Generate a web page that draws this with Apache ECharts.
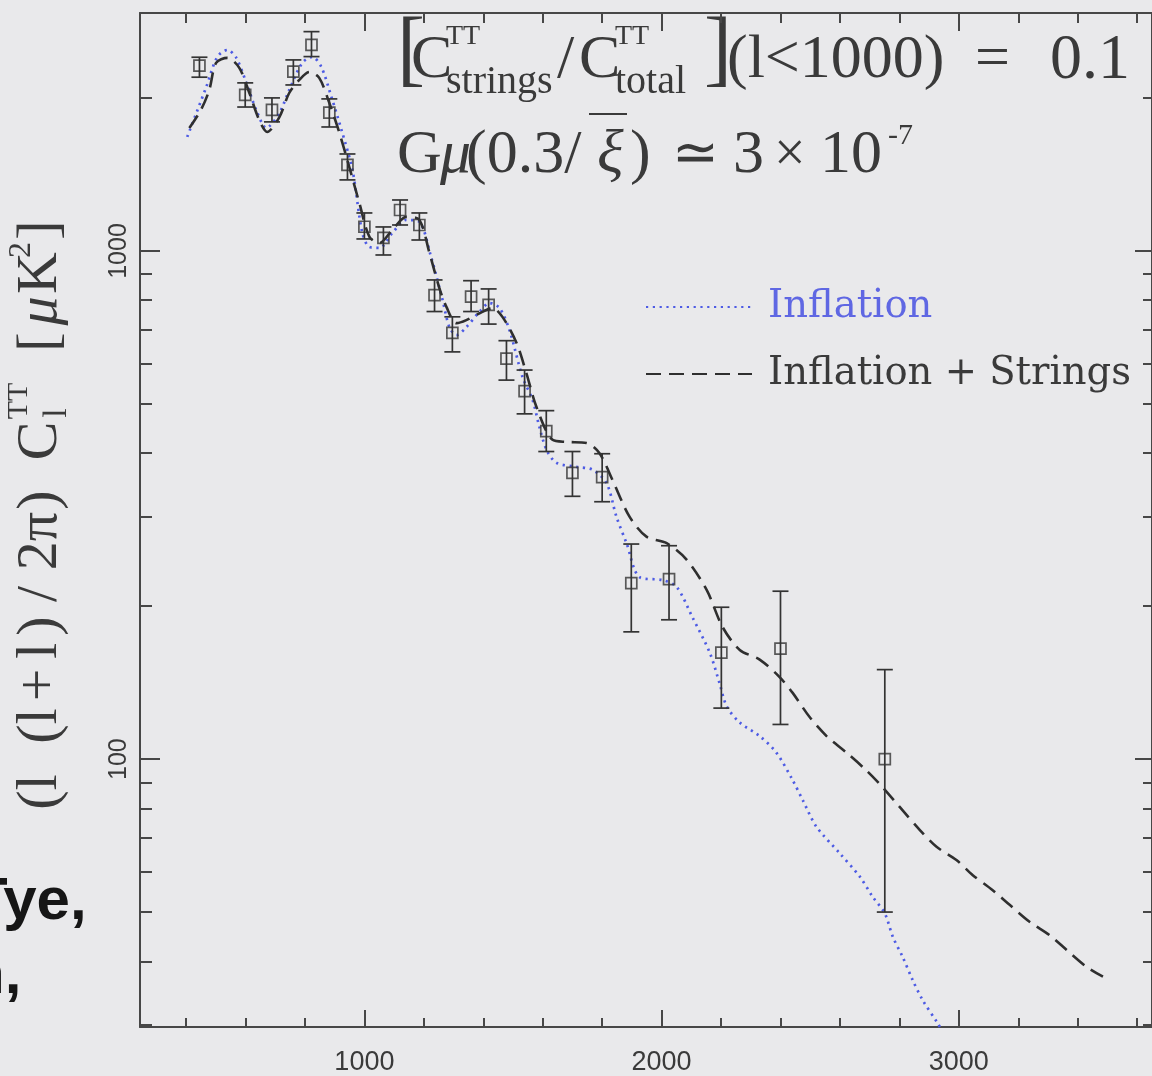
<!DOCTYPE html>
<html><head><meta charset="utf-8">
<script src="https://cdn.jsdelivr.net/npm/echarts@6/dist/echarts.min.js"></script>
<style>html,body{margin:0;padding:0;background:#e9e9eb;}#chart{width:1152px;height:1076px;}</style>
</head><body><div id="chart"></div>
<script>
// ---- measured band powers (l, value, lower, upper) in uK^2
const binEll  = [445, 599, 689, 761, 822, 882, 943, 1000, 1064, 1120, 1185, 1236, 1296, 1359, 1418, 1478, 1539, 1612, 1700, 1800, 1898, 2025, 2201, 2400, 2751];
const binVal  = [2317, 2028, 1895, 2254, 2544, 1872, 1477, 1116, 1061, 1204, 1125, 819, 690, 813, 783, 614, 530, 442, 366, 359, 222, 226, 162, 165, 100];
const binLow  = [2198, 1920, 1795, 2122, 2413, 1754, 1380, 1056, 982, 1125, 1051, 760, 633, 760, 718, 557, 478, 403, 329, 321, 178, 188, 126, 117, 50];
const binHigh = [2406, 2142, 2001, 2377, 2702, 1992, 1552, 1188, 1115, 1260, 1188, 877, 742, 874, 842, 666, 583, 485, 403, 399, 265, 263, 199, 214, 150];

// ---- Inflation model curve
const inflEll = [404, 468, 505, 539, 569, 603, 636, 670, 714, 747, 791, 825, 855, 889, 923, 960, 993, 1017, 1051, 1094, 1141, 1185, 1222, 1263, 1286, 1310, 1343, 1387, 1421, 1455, 1488, 1532, 1566, 1589, 1613, 1646, 1714, 1768, 1815, 1848, 1882, 1926, 2003, 2051, 2104, 2162, 2195, 2219, 2263, 2330, 2386, 2441, 2475, 2521, 2599, 2667, 2710, 2751, 2778, 2811, 2845, 2879, 2929, 2953];
const inflVal = [1677, 2103, 2409, 2487, 2399, 2141, 1895, 1746, 1869, 2074, 2345, 2409, 2303, 2010, 1730, 1443, 1085, 1018, 1014, 1085, 1151, 1141, 985, 801, 708, 683, 708, 759, 790, 772, 699, 565, 509, 450, 406, 383, 376, 371, 349, 300, 266, 228, 225, 218, 190, 162, 141, 127, 118, 111, 103, 90.9, 83.0, 73.6, 65.3, 58.7, 53.6, 49.7, 44.7, 40.8, 36.7, 33.5, 30.2, 28.6];

// ---- Inflation + Strings model curve
const strEll = [411, 450, 478, 501, 539, 579, 613, 646, 673, 714, 747, 781, 815, 848, 882, 916, 949, 983, 1017, 1051, 1094, 1141, 1185, 1219, 1252, 1276, 1310, 1343, 1397, 1431, 1465, 1512, 1545, 1579, 1633, 1680, 1747, 1791, 1835, 1892, 1949, 2017, 2084, 2152, 2205, 2263, 2330, 2397, 2441, 2498, 2555, 2622, 2689, 2744, 2801, 2869, 2925, 2992, 3047, 3114, 3172, 3239, 3306, 3363, 3430, 3485];
const strVal = [1746, 1895, 2074, 2345, 2399, 2293, 2046, 1811, 1715, 1835, 2046, 2171, 2251, 2191, 1956, 1707, 1464, 1243, 1066, 1037, 1100, 1167, 1151, 991, 846, 776, 721, 731, 759, 772, 741, 659, 575, 493, 425, 421, 419, 400, 354, 300, 274, 266, 247, 215, 182, 164, 157, 145, 135, 121, 111, 103, 95, 88, 80.5, 72.5, 67.2, 63.3, 59.1, 55.2, 51.6, 47.8, 45.0, 42.1, 39.0, 37.3];

// ---- axis ticks
const xMajorTicks = [1000, 2000, 3000];
const xMinorTicks = [400, 600, 800, 1200, 1400, 1600, 1800, 2200, 2400, 2600, 2800, 3200, 3400, 3600];
const yLabelTicks = [100, 1000];

const frameColor = '#474747';
const serif = "'Liberation Serif','Times New Roman',serif";
const ink = '#3a3a3a';
const sans = "'Liberation Sans',Arial,sans-serif";

function txt(s, x, y, size, style) {
  return { type: 'text', x: x, y: y, silent: true,
    style: Object.assign({ text: s, fontSize: size, fontFamily: serif, fill: ink,
      textAlign: 'left', textVerticalAlign: 'middle', verticalAlign: 'middle' }, style || {}) };
}
function rot(s, yc, xc, size, style) {
  return { type: 'text', x: xc, y: yc, rotation: Math.PI / 2, silent: true,
    style: Object.assign({ text: s, fontSize: size, fontFamily: serif, fill: ink,
      textAlign: 'center', textVerticalAlign: 'middle', verticalAlign: 'middle' }, style || {}) };
}

const chart = echarts.init(document.getElementById('chart'), null, { renderer: 'canvas' });

const xBase = { type: 'value', min: 245, max: 3650, splitLine: { show: false } };
const yBase = { type: 'log', logBase: 10, min: 29.7, max: 2940, splitLine: { show: false }, minorSplitLine: { show: false } };
const ls = { color: frameColor, width: 2 };

const option = {
  backgroundColor: '#e9e9eb',
  animation: false,
  grid: { left: 140, top: 13, width: 1013, height: 1014, containLabel: false },
  xAxis: [
    Object.assign({}, xBase, { position: 'bottom',
      axisLine: { show: true, onZero: false, lineStyle: ls },
      axisTick: { show: true, inside: true, length: 17, customValues: xMajorTicks, lineStyle: ls },
      axisLabel: { show: true, customValues: xMajorTicks, margin: 22, fontSize: 27, color: '#3a3a3a', fontFamily: sans,
        formatter: function (v) { return String(Math.round(v)); } } }),
    Object.assign({}, xBase, { position: 'bottom',
      axisLine: { show: false, onZero: false },
      axisTick: { show: true, inside: true, length: 9, customValues: xMinorTicks, lineStyle: ls },
      axisLabel: { show: false } }),
    Object.assign({}, xBase, { position: 'top',
      axisLine: { show: true, onZero: false, lineStyle: ls },
      axisTick: { show: true, inside: true, length: 18, customValues: xMajorTicks, lineStyle: ls },
      axisLabel: { show: false } }),
    Object.assign({}, xBase, { position: 'top',
      axisLine: { show: false, onZero: false },
      axisTick: { show: true, inside: true, length: 10, customValues: xMinorTicks, lineStyle: ls },
      axisLabel: { show: false } })
  ],
  yAxis: [
    Object.assign({}, yBase, { position: 'left',
      axisLine: { show: true, onZero: false, lineStyle: ls },
      axisTick: { show: true, inside: true, length: 20, lineStyle: ls },
      minorTick: { show: true, splitNumber: 9, length: 12, lineStyle: ls },
      axisLabel: { show: true, rotate: 90, margin: 8, fontSize: 25, color: '#3a3a3a', fontFamily: sans,
        formatter: function (v) { return yLabelTicks.some(function (t) { return Math.abs(v - t) < 1e-6; }) ? String(Math.round(v)) : ''; } } }),
    Object.assign({}, yBase, { position: 'right',
      axisLine: { show: true, onZero: false, lineStyle: ls },
      axisTick: { show: true, inside: true, length: 17, lineStyle: ls },
      minorTick: { show: true, splitNumber: 9, length: 9, lineStyle: ls },
      axisLabel: { show: false } })
  ],
  legend: {
    data: [ { name: 'Inflation', textStyle: { color: '#5f67e3' } },
            { name: 'Inflation + Strings', textStyle: { color: '#3a3a3a' } } ],
    orient: 'vertical', left: 645, top: 287, padding: 0,
    itemWidth: 106, itemHeight: 20, itemGap: 27, selectedMode: false,
    itemStyle: { color: 'rgba(0,0,0,0)', borderWidth: 0, opacity: 0 },
    textStyle: { fontFamily: "'DejaVu Serif',serif", fontSize: 38.5, lineHeight: 40, padding: [0, 0, 0, 11] }
  },
  series: [
    { name: 'Inflation', type: 'line', xAxisIndex: 0, yAxisIndex: 0, symbol: 'none', showSymbol: false, smooth: 0.3, clip: true,
      itemStyle: { color: 'rgba(0,0,0,0)' },
      lineStyle: { color: '#4d5be4', width: 2.7, type: [2.2, 4.6] },
      data: inflEll.map(function (l, i) { return [l, inflVal[i]]; }), z: 2 },
    { name: 'Inflation + Strings', type: 'line', xAxisIndex: 0, yAxisIndex: 0, symbol: 'none', showSymbol: false, smooth: 0.3, clip: true,
      itemStyle: { color: 'rgba(0,0,0,0)' },
      lineStyle: { color: '#2f2f2f', width: 2.6, type: [15, 8] },
      data: strEll.map(function (l, i) { return [l, strVal[i]]; }), z: 3 },
    { name: 'errors', type: 'custom', xAxisIndex: 0, yAxisIndex: 0, clip: true, z: 4,
      encode: { x: 0, y: [1, 2] },
      data: binEll.map(function (l, i) { return [l, binLow[i], binHigh[i]]; }),
      renderItem: function (params, api) {
        const x = api.value(0);
        const a = api.coord([x, api.value(1)]);
        const b = api.coord([x, api.value(2)]);
        const hw = 8;
        const st = { stroke: '#333', lineWidth: 1.7 };
        return { type: 'group', children: [
          { type: 'line', shape: { x1: a[0], y1: a[1], x2: b[0], y2: b[1] }, style: st },
          { type: 'line', shape: { x1: a[0] - hw, y1: a[1], x2: a[0] + hw, y2: a[1] }, style: st },
          { type: 'line', shape: { x1: b[0] - hw, y1: b[1], x2: b[0] + hw, y2: b[1] }, style: st }
        ] };
      } },
    { name: 'data', type: 'scatter', xAxisIndex: 0, yAxisIndex: 0, symbol: 'rect', symbolSize: 11, z: 5,
      itemStyle: { color: 'rgba(0,0,0,0)', borderColor: '#333', borderWidth: 1.7 },
      data: binEll.map(function (l, i) { return [l, binVal[i]]; }) }
  ],
  graphic: [
    // annotation line 1
    txt('[', 397, 54, 84),
    txt('C', 411, 61, 62),
    txt('TT', 446, 37, 28),
    txt('strings', 446, 82, 40),
    txt('/', 557, 61, 62),
    txt('C', 579, 61, 62),
    txt('TT', 615, 37, 28),
    txt('total', 615, 82, 40),
    txt(']', 704, 54, 84),
    txt('(l<1000)', 727, 61, 62),
    txt('=', 975, 61, 62),
    txt('0.1', 1050, 61, 64),
    // annotation line 2
    txt('G', 397, 156, 62),
    txt('μ', 440, 156, 62, { fontStyle: 'italic' }),
    txt('(0.3/', 466, 156, 62),
    txt('ξ', 597, 156, 62, { fontStyle: 'italic' }),
    { type: 'line', silent: true, shape: { x1: 589, y1: 114, x2: 627, y2: 114 }, style: { stroke: ink, lineWidth: 2 } },
    txt(')', 630, 156, 62),
    txt('≃', 672, 156, 56),
    txt('3', 733, 156, 62),
    txt('×', 774, 156, 56),
    txt('10', 820, 156, 62),
    txt('-7', 888, 136, 30),
    // y axis title (rotated)
    rot('(l', 792, 41, 58),
    rot('(l', 726, 41, 58),
    rot('+', 685, 41, 58),
    rot('l', 651, 41, 58),
    rot(')', 626, 41, 58),
    rot('/', 594, 41, 58),
    rot('2π', 541, 41, 58),
    rot(')', 500, 41, 58),
    rot('C', 441, 41, 58),
    rot('TT', 401, 19, 30),
    rot('l', 413, 57, 34),
    rot('[', 342, 41, 58),
    rot('μ', 311, 41, 58, { fontStyle: 'italic' }),
    rot('K', 273, 41, 58),
    rot('2', 250, 22, 32),
    rot(']', 230, 41, 58),
    // slide text partially visible at left
    txt('Tye,', -29, 902, 60, { fontWeight: 'bold', fontFamily: sans, fill: '#161616' }),
    txt('n,', -32, 976, 60, { fontWeight: 'bold', fontFamily: sans, fill: '#161616' })
  ]
};
chart.setOption(option);
</script></body></html>
